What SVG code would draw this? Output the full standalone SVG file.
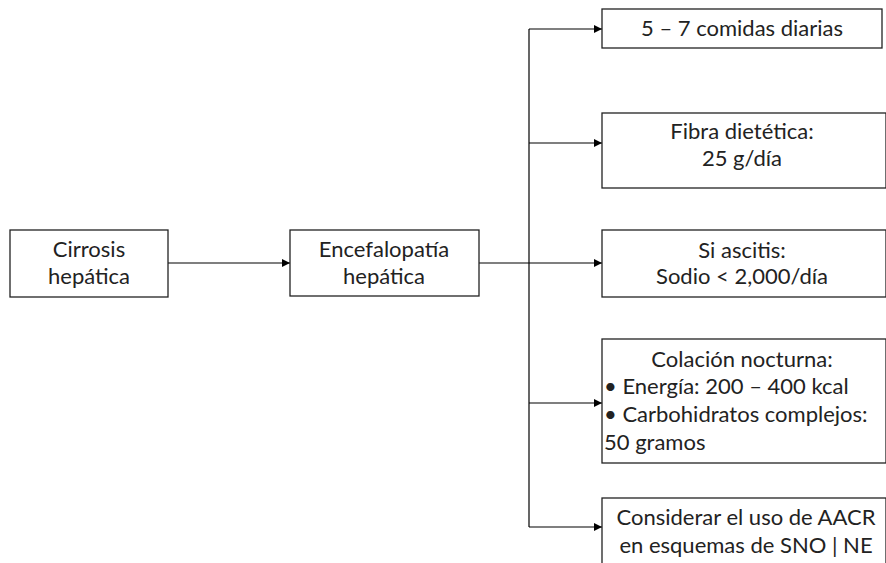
<svg xmlns="http://www.w3.org/2000/svg" width="886" height="563" viewBox="0 0 886 563">
  <defs>
    <marker id="arrow" viewBox="0 0 10 10" refX="10" refY="5" markerWidth="8" markerHeight="8" markerUnits="userSpaceOnUse" orient="auto">
      <path d="M0,0 L10,5 L0,10 z" fill="#000"/>
    </marker>
    <style>
      .box { fill: #fff; stroke: #222; stroke-width: 1.3; }
      .lbl { font-family: Lato, "Open Sans", "Liberation Sans", sans-serif; font-size: 22px; fill: #222; }
      .c { text-anchor: middle; }
      .line { fill: none; stroke: #000; stroke-width: 1.2; }
    </style>
  </defs>
  <rect width="886" height="563" fill="#fff"/>

  <g id="connectors">
    <line class="line" x1="168" y1="263" x2="290" y2="263" marker-end="url(#arrow)"/>
    <line class="line" x1="479" y1="263" x2="602" y2="263" marker-end="url(#arrow)"/>
    <line class="line" x1="529" y1="29" x2="529" y2="527"/>
    <line class="line" x1="529" y1="29" x2="602" y2="29" marker-end="url(#arrow)"/>
    <line class="line" x1="529" y1="143" x2="602" y2="143" marker-end="url(#arrow)"/>
    <line class="line" x1="529" y1="403" x2="602" y2="403" marker-end="url(#arrow)"/>
    <line class="line" x1="529" y1="527" x2="602" y2="527" marker-end="url(#arrow)"/>
  </g>

  <g id="cirrosis">
    <rect class="box" x="10" y="230" width="158" height="67"/>
    <text class="lbl c" x="89" y="257">Cirrosis</text>
    <text class="lbl c" x="89" y="284">hepática</text>
  </g>

  <g id="encefalopatia">
    <rect class="box" x="290" y="230" width="189" height="66"/>
    <text class="lbl c" x="384" y="257">Encefalopatía</text>
    <text class="lbl c" x="384" y="284">hepática</text>
  </g>

  <g id="comidas">
    <rect class="box" x="602" y="9" width="280" height="39"/>
    <text class="lbl c" x="742" y="36">5 – 7 comidas diarias</text>
  </g>

  <g id="fibra">
    <rect class="box" x="602" y="113" width="284" height="75"/>
    <text class="lbl c" x="742" y="139">Fibra dietética:</text>
    <text class="lbl c" x="742" y="166">25 g/día</text>
  </g>

  <g id="sodio">
    <rect class="box" x="602" y="230" width="284" height="67"/>
    <text class="lbl c" x="742" y="258">Si ascitis:</text>
    <text class="lbl c" x="742" y="284">Sodio &lt; 2,000/día</text>
  </g>

  <g id="colacion">
    <rect class="box" x="602" y="339" width="284" height="124"/>
    <text class="lbl c" x="742" y="367">Colación nocturna:</text>
    <text class="lbl" x="604" y="394">• Energía: 200 – 400 kcal</text>
    <text class="lbl" x="604" y="422">• Carbohidratos complejos:</text>
    <text class="lbl" x="604" y="450">50 gramos</text>
  </g>

  <g id="aacr">
    <rect class="box" x="602" y="498" width="284" height="75"/>
    <text class="lbl c" x="746" y="525">Considerar el uso de AACR</text>
    <text class="lbl c" x="746" y="553">en esquemas de SNO | NE</text>
  </g>
</svg>
